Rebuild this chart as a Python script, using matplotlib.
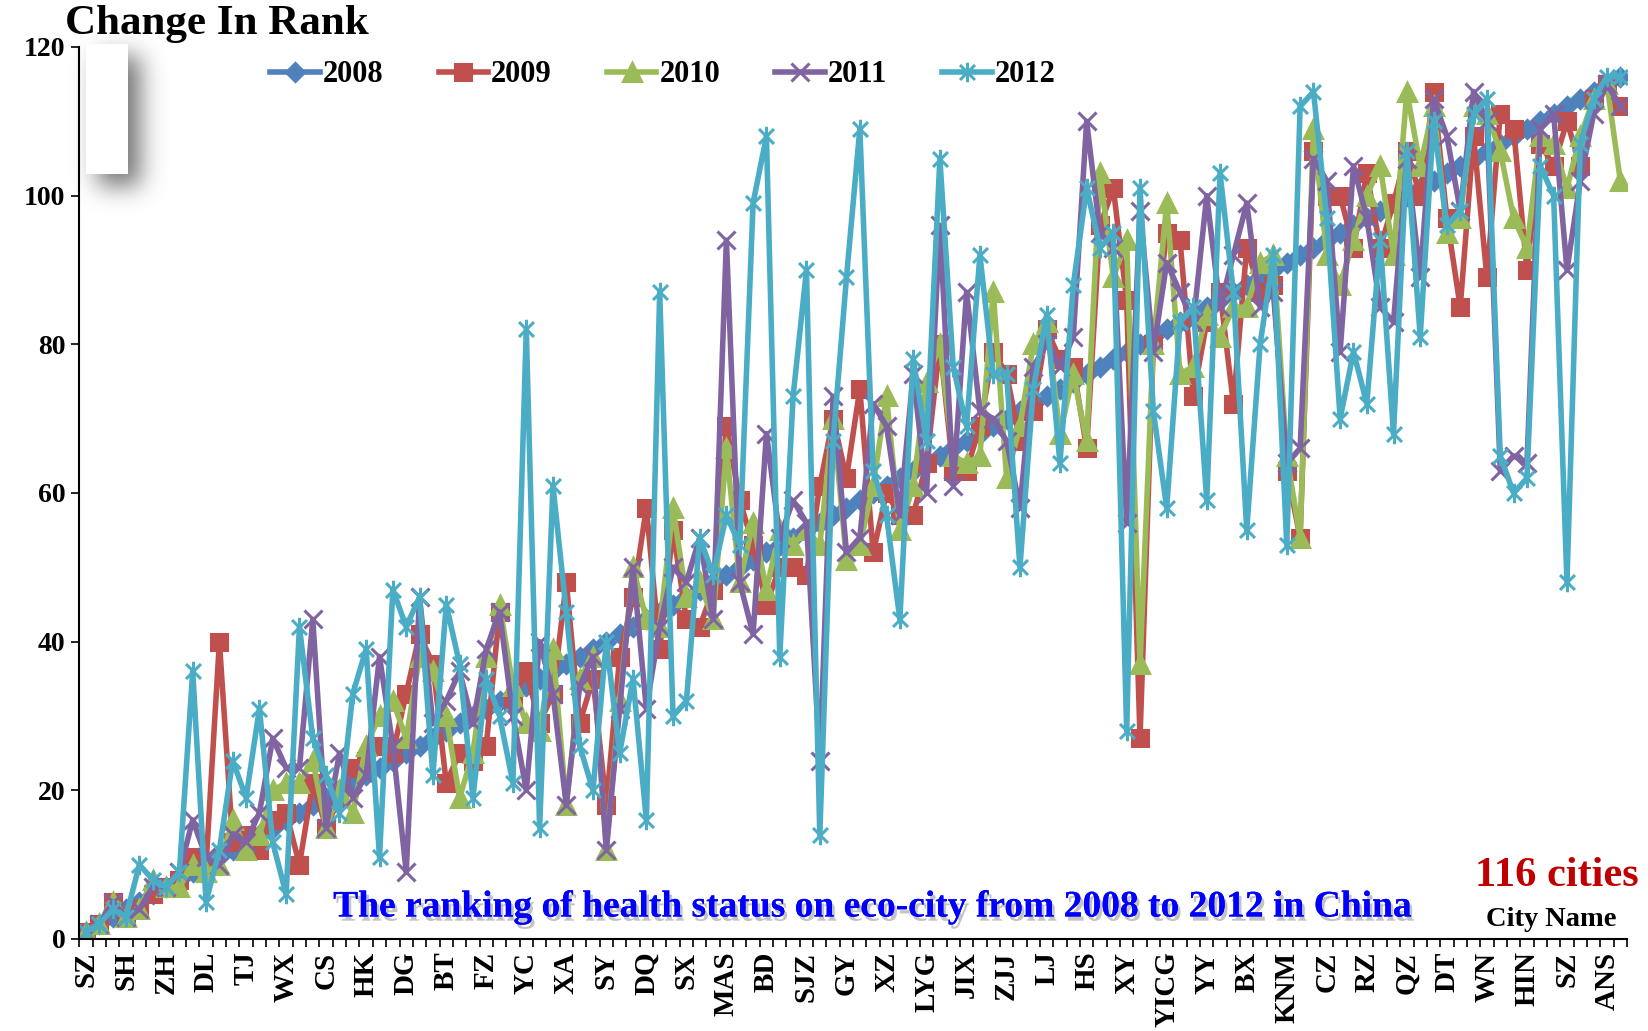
import math

import numpy as np
import matplotlib
matplotlib.use('Agg')
import matplotlib.pyplot as plt
import matplotlib.patheffects as pe
from matplotlib.path import Path
from matplotlib.patches import Rectangle

# tick labels (every third city is labelled on the axis)
city_labels = ['SZ', 'SH', 'ZH', 'DL', 'TJ', 'WX', 'CS', 'HK', 'DG', 'BT', 'FZ', 'YC', 'XA',
               'SY', 'DQ', 'SX', 'MAS', 'BD', 'SJZ', 'GY', 'XZ', 'LYG', 'JIX', 'ZJJ', 'LJ', 'HS',
               'XY', 'YICG', 'YY', 'BX', 'KNM', 'CZ', 'RZ', 'QZ', 'DT', 'WN', 'HIN', 'SZ', 'ANS']
years = ['2008', '2009', '2010', '2011', '2012']

rank_2008 = [1, 2, 3, 4, 5, 6, 7, 8, 9, 10, 11, 12, 13, 14, 15, 16, 17, 18, 19, 20,
             21, 22, 23, 24, 25, 26, 27, 28, 29, 30, 31, 32, 33, 34, 35, 36, 37, 38, 39, 40,
             41, 42, 43, 44, 45, 46, 47, 48, 49, 50, 51, 52, 53, 54, 55, 56, 57, 58, 59, 60,
             61, 62, 63, 64, 65, 66, 67, 68, 69, 70, 71, 72, 73, 74, 75, 76, 77, 78, 79, 80,
             81, 82, 83, 84, 85, 86, 87, 88, 89, 90, 91, 92, 93, 94, 95, 96, 97, 98, 99, 100,
             101, 102, 103, 104, 105, 106, 107, 108, 109, 110, 111, 112, 113, 114, 115, 116]

rank_2009 = [1, 2, 5, 3, 4, 6, 7, 8, 11, 10, 40, 13, 14, 12, 16,
             17, 10, 21, 15, 19, 23, 24, 26, 25, 33, 41, 37, 21, 25, 24, 26,
             44, 32, 36, 29, 33, 48, 29, 35, 18, 38, 46, 58, 39, 55, 43, 42,
             47, 69, 59, 53, 45, 50, 50, 49, 61, 70, 62, 74, 52, 60, 57, 57, 64, 80,
             63, 63, 69, 79, 76, 67, 71, 82, 78, 77, 66, 96, 101, 86, 27,
             80, 95, 94, 73, 83, 87, 72, 93, 87, 88, 63, 54, 106, 100, 100, 93,
             103, 93, 99, 106, 100, 114, 97, 85, 108, 89, 111, 109, 90, 107, 104, 110, 104, 113, 115, 112]

rank_2010 = [1, 2, 5, 3, 4, 8, 7, 7, 10, 9, 10, 16, 12, 14, 20,
             21, 21, 24, 15, 20, 17, 26, 30, 32, 27, 38, 36, 30, 19, 25, 38,
             45, 34, 29, 28, 39, 18, 35, 38, 12, 32, 50, 43, 42, 58, 46, 48,
             43, 66, 48, 56, 47, 55, 53, 55, 53, 70, 51, 53, 61, 73, 55, 61, 75, 80,
             65, 64, 65, 87, 62, 69, 80, 83, 68, 76, 67, 103, 89, 94, 37,
             80, 99, 76, 77, 84, 81, 85, 85, 91, 92, 65, 54, 109, 92, 88, 94,
             100, 104, 92, 114, 104, 112, 95, 97, 112, 111, 106, 97, 93, 108, 107, 101, 108, 113, 115, 102]

rank_2011 = [1, 2, 5, 3, 4, 7, 7, 9, 16, 11, 10, 14, 13, 17, 27,
             23, 23, 43, 15, 25, 19, 22, 38, 26, 9, 46, 29, 32, 36, 29, 39,
             44, 30, 20, 40, 33, 18, 34, 38, 12, 31, 50, 31, 42, 50, 48, 54,
             43, 94, 48, 41, 68, 54, 59, 56, 24, 73, 52, 54, 72, 69, 57, 76, 60, 96,
             61, 87, 71, 70, 67, 58, 77, 80, 77, 81, 110, 95, 93, 56, 98,
             79, 91, 87, 83, 100, 85, 92, 99, 85, 87, 64, 66, 105, 102, 79, 104,
             97, 85, 83, 105, 89, 113, 108, 98, 114, 110, 63, 65, 64, 109, 111, 90, 102, 111, 115, 112]

rank_2012 = [1, 2, 4, 3, 10, 8, 7, 9, 36, 5, 12, 24, 19, 31, 13,
             6, 42, 27, 22, 17, 33, 39, 11, 47, 42, 46, 22, 45, 37, 19, 35,
             30, 21, 82, 15, 61, 44, 26, 20, 40, 25, 35, 16, 87, 30, 32, 54,
             49, 57, 53, 99, 108, 38, 73, 90, 14, 67, 89, 109, 63, 57, 43, 78, 67, 105,
             77, 69, 92, 76, 76, 50, 74, 84, 64, 88, 101, 93, 95, 28, 101,
             71, 58, 83, 85, 59, 103, 87, 55, 80, 92, 53, 112, 114, 97, 70, 79,
             72, 94, 68, 106, 81, 110, 96, 98, 111, 113, 65, 60, 62, 104, 100, 48, 107, 113, 116, 116]

series = [rank_2008, rank_2009, rank_2010, rank_2011, rank_2012]
colors = ['#4F81BD', '#C0504D', '#9BBB59', '#8064A2', '#4BACC6']

# Excel style "star" marker: an x with a vertical bar
star = Path([(-1, -1), (1, 1), (-1, 1), (1, -1), (0, -1.3), (0, 1.3)],
            [Path.MOVETO, Path.LINETO] * 3)
markers = ['D', 's', '^', 'x', star]
msizes = [9, 12, 13, 13, 14]

plt.rcParams['font.family'] = ['Liberation Serif', 'DejaVu Serif']
plt.rcParams['font.weight'] = 'bold'

W, H = 1649, 1031
fig = plt.figure(figsize=(W / 100, H / 100), dpi=100)
ax = fig.add_axes([79.3 / W, 1 - 939 / H, (1627 - 79.3) / W, (939 - 47) / H])

n = len(rank_2008)
xs = list(range(n))
for vals, col, mk, ms, yr in zip(series, colors, markers, msizes, years):
    ax.plot(xs, vals, color=col, lw=4.0, marker=mk, ms=ms, mec=col, mfc=col,
            mew=2.2, label=yr)

ax.set_xlim(-0.5, n - 0.5)
ax.set_ylim(0, 120)
ax.set_yticks(range(0, 121, 20))
ax.set_xticks(range(0, n, 3))
ax.set_xticklabels(city_labels, rotation=90, fontsize=21, fontweight='bold')
ax.set_xticks([k - 0.5 for k in range(n + 1)], minor=True)
ax.tick_params(axis='x', which='major', length=0, pad=9)
ax.tick_params(axis='x', which='minor', length=6, width=1.2, direction='out')
ax.tick_params(axis='y', length=6, width=1.2, labelsize=20, pad=4)
for lab in ax.get_yticklabels():
    lab.set_fontweight('bold')
for side in ['top', 'right']:
    ax.spines[side].set_visible(False)
for side in ['left', 'bottom']:
    ax.spines[side].set_linewidth(1.5)

fig.text(65 / W, 1 - 24 / H, 'Change In Rank', fontsize=31, fontweight='bold',
         ha='left', va='center')

fig.legend(loc='center', bbox_to_anchor=(663 / W, 1 - 75 / H), ncol=5, frameon=False,
           handlelength=1.62, handletextpad=0.1, columnspacing=1.8,
           prop={'weight': 'bold', 'size': 22})

fig.text(872 / W, 1 - 907 / H,
         'The ranking of health status on eco-city from 2008 to 2012 in China',
         color='#0000FF', fontsize=27, fontweight='bold', ha='center', va='center',
         path_effects=[pe.withSimplePatchShadow(offset=(2, -3), shadow_rgbFace='#888888', alpha=0.5),
                       pe.Normal()])
fig.text(1557 / W, 1 - 876 / H, '116 cities', color='#C00000', fontsize=30.5,
         fontweight='bold', ha='center', va='center')
fig.text(1551 / W, 1 - 920 / H, 'City Name', color='black', fontsize=20.5,
         fontweight='bold', ha='center', va='center')

# blank text box in the upper left corner with a soft drop shadow
box_x, box_y, box_w, box_h = 86, 44, 42, 130       # pixels, y measured from top
shift, sigma, pad = 12, 12, 55
img_x0, img_y0 = box_x - pad, box_y - pad
img_w, img_h = box_w + 2 * pad + shift, box_h + 2 * pad + shift
erf = np.vectorize(math.erf)


def smooth_box(coords, a, b):
    return 0.5 * (erf((coords - a) / (sigma * math.sqrt(2))) - erf((coords - b) / (sigma * math.sqrt(2))))


cx = np.arange(img_w) + img_x0 + 0.5
cy = np.arange(img_h) + img_y0 + 0.5
alpha = 0.8 * np.outer(smooth_box(cy, box_y + shift, box_y + shift + box_h),
                       smooth_box(cx, box_x + shift, box_x + shift + box_w))
shadow = np.zeros((img_h, img_w, 4))
shadow[..., :3] = 0.3
shadow[..., 3] = alpha
sax = fig.add_axes([img_x0 / W, 1 - (img_y0 + img_h) / H, img_w / W, img_h / H], zorder=5)
sax.imshow(shadow, aspect='auto', interpolation='bilinear')
sax.axis('off')
fig.add_artist(Rectangle((box_x / W, 1 - (box_y + box_h) / H), box_w / W, box_h / H,
                         transform=fig.transFigure, facecolor='white', edgecolor='none',
                         zorder=10))

fig.savefig('out.png', dpi=100)
